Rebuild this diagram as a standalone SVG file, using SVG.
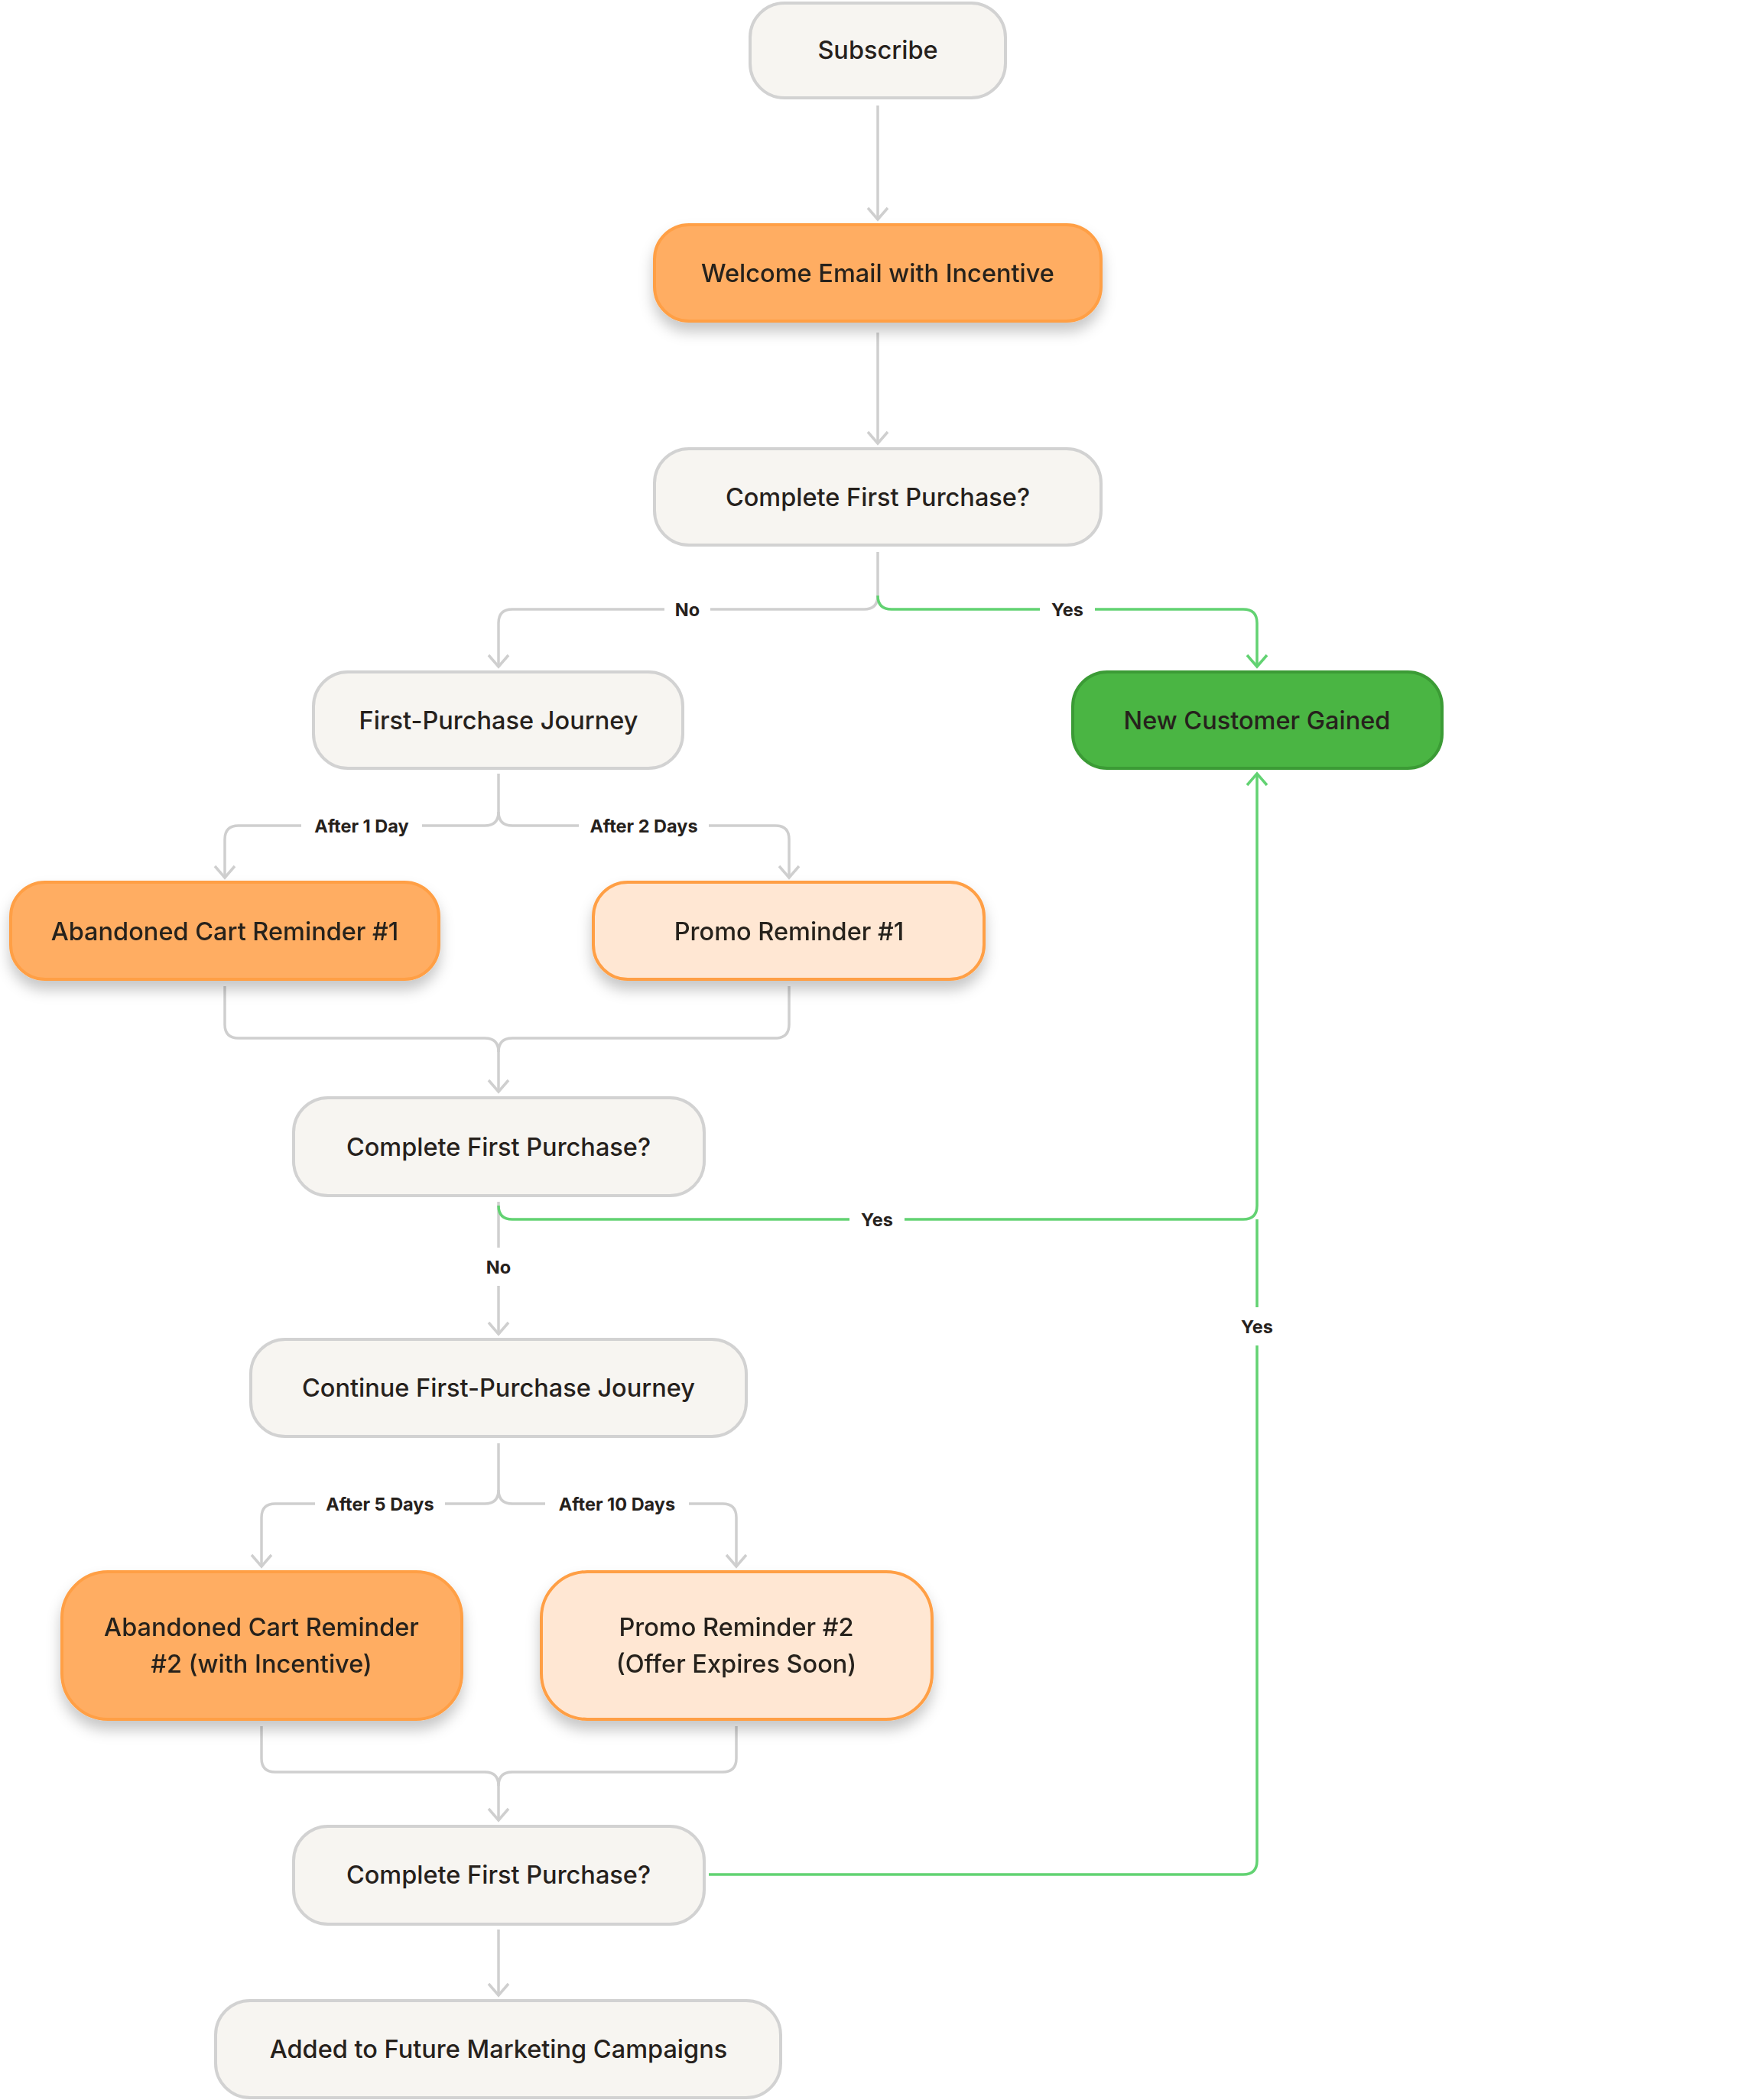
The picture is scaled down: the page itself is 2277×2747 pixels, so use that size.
<svg xmlns="http://www.w3.org/2000/svg" width="2277" height="2747" viewBox="0 0 2277 2747">
<style>
.node rect{stroke-width:4}
.grey rect{fill:#f7f5f1;stroke:#d2d2d2}
.orange rect{fill:#ffad62;stroke:#ff9f45}
.light rect{fill:#ffe7d3;stroke:#ff9f45}
.green rect{fill:#4ab543;stroke:#3b9b35}
.node text{font-family:Inter,"Noto Sans","Liberation Sans",sans-serif;font-size:32.5px;font-weight:500;fill:#26211c;text-anchor:middle;dominant-baseline:central}
.conn path{fill:none;stroke-width:3.5}
.g{stroke:#cfcfcf}
.y{stroke:#62d272}
.lbl rect{fill:#ffffff}
.lbl text{font-family:Inter,"Noto Sans","Liberation Sans",sans-serif;font-size:23.5px;font-weight:700;fill:#26211c;text-anchor:middle;dominant-baseline:central}
</style>
<defs>
<filter id="sh" x="-20%" y="-30%" width="140%" height="180%">
<feDropShadow dx="0" dy="12" stdDeviation="9" flood-color="#000" flood-opacity="0.22"/>
</filter>
<marker id="ag" viewBox="-20 -20 40 40" markerWidth="40" markerHeight="40" refX="0" refY="0" orient="auto" markerUnits="userSpaceOnUse">
<path d="M-15,-13 L0,0 L-15,13" fill="none" stroke="#cfcfcf" stroke-width="3.5"/>
</marker>
<marker id="ay" viewBox="-20 -20 40 40" markerWidth="40" markerHeight="40" refX="0" refY="0" orient="auto" markerUnits="userSpaceOnUse">
<path d="M-15,-13 L0,0 L-15,13" fill="none" stroke="#62d272" stroke-width="3.5"/>
</marker>
</defs>
<rect width="2277" height="2747" fill="#ffffff"/>
<g id="connectors" class="conn">
<path class="g" d="M1148 138 V287" marker-end="url(#ag)"/>
<path class="g" d="M1148 435 V580" marker-end="url(#ag)"/>
<path class="g" d="M1148 722 V779 Q1148 797 1130 797 H670 Q652 797 652 815 V872" marker-end="url(#ag)"/>
<path class="y" d="M1148 779 Q1148 797 1166 797 H1626 Q1644 797 1644 815 V872" marker-end="url(#ay)"/>
<path class="g" d="M652 1012 V1062 Q652 1080 634 1080 H312 Q294 1080 294 1098 V1148" marker-end="url(#ag)"/>
<path class="g" d="M652 1062 Q652 1080 670 1080 H1014 Q1032 1080 1032 1098 V1148" marker-end="url(#ag)"/>
<path class="g" d="M294 1290 V1340 Q294 1358 312 1358 H634 Q652 1358 652 1376 V1428" marker-end="url(#ag)"/>
<path class="g" d="M1032 1290 V1340 Q1032 1358 1014 1358 H670 Q652 1358 652 1376"/>
<path class="g" d="M652 1572 V1745" marker-end="url(#ag)"/>
<path class="y" d="M652 1577 Q652 1595 670 1595 H1626 Q1644 1595 1644 1577 V1012" marker-end="url(#ay)"/>
<path class="g" d="M652 1888 V1949 Q652 1967 634 1967 H360 Q342 1967 342 1985 V2049" marker-end="url(#ag)"/>
<path class="g" d="M652 1949 Q652 1967 670 1967 H945 Q963 1967 963 1985 V2049" marker-end="url(#ag)"/>
<path class="g" d="M342 2258 V2300 Q342 2318 360 2318 H634 Q652 2318 652 2336 V2381" marker-end="url(#ag)"/>
<path class="g" d="M963 2258 V2300 Q963 2318 945 2318 H670 Q652 2318 652 2336"/>
<path class="y" d="M927 2452 H1626 Q1644 2452 1644 2434 V1595"/>
<path class="g" d="M652 2524 V2610" marker-end="url(#ag)"/>
<g class="lbl">
<rect x="869" y="780" width="60" height="34"/><text x="899" y="797">No</text>
<rect x="1360" y="780" width="72" height="34"/><text x="1396" y="797">Yes</text>
<rect x="394" y="1063" width="158" height="34"/><text x="473" y="1080">After 1 Day</text>
<rect x="757" y="1063" width="170" height="34"/><text x="842" y="1080">After 2 Days</text>
<rect x="1111" y="1578" width="72" height="34"/><text x="1147" y="1595">Yes</text>
<rect x="628" y="1632" width="48" height="50"/><text x="652" y="1657">No</text>
<rect x="1614" y="1710" width="60" height="50"/><text x="1644" y="1735">Yes</text>
<rect x="412" y="1950" width="170" height="34"/><text x="497" y="1967">After 5 Days</text>
<rect x="713" y="1950" width="188" height="34"/><text x="807" y="1967">After 10 Days</text>
</g>
</g>
<g id="subscribe" class="node grey"><rect x="981" y="4" width="334" height="124" rx="45"/><text x="1148" y="65">Subscribe</text></g>
<g id="welcome" class="node orange" filter="url(#sh)"><rect x="856" y="294" width="584" height="126" rx="45"/><text x="1148" y="357">Welcome Email with Incentive</text></g>
<g id="check1" class="node grey"><rect x="856" y="587" width="584" height="126" rx="45"/><text x="1148" y="650">Complete First Purchase?</text></g>
<g id="journey" class="node grey"><rect x="410" y="879" width="483" height="126" rx="45"/><text x="652" y="942">First-Purchase Journey</text></g>
<g id="gained" class="node green"><rect x="1403" y="879" width="483" height="126" rx="45"/><text x="1644" y="942">New Customer Gained</text></g>
<g id="cart1" class="node orange" filter="url(#sh)"><rect x="14" y="1154" width="560" height="127" rx="45"/><text x="294" y="1218">Abandoned Cart Reminder #1</text></g>
<g id="promo1" class="node light" filter="url(#sh)"><rect x="776" y="1154" width="511" height="127" rx="45"/><text x="1032" y="1218">Promo Reminder #1</text></g>
<g id="check2" class="node grey"><rect x="384" y="1436" width="537" height="128" rx="45"/><text x="652" y="1500">Complete First Purchase?</text></g>
<g id="continue" class="node grey"><rect x="328" y="1752" width="648" height="127" rx="45"/><text x="652" y="1815">Continue First-Purchase Journey</text></g>
<g id="cart2" class="node orange" filter="url(#sh)"><rect x="81" y="2056" width="523" height="193" rx="60"/><text x="342" y="2128">Abandoned Cart Reminder</text><text x="342" y="2176">#2 (with Incentive)</text></g>
<g id="promo2" class="node light" filter="url(#sh)"><rect x="708" y="2056" width="511" height="193" rx="60"/><text x="963" y="2128">Promo Reminder #2</text><text x="963" y="2176">(Offer Expires Soon)</text></g>
<g id="check3" class="node grey"><rect x="384" y="2389" width="537" height="128" rx="45"/><text x="652" y="2452">Complete First Purchase?</text></g>
<g id="future" class="node grey"><rect x="282" y="2617" width="739" height="127" rx="45"/><text x="652" y="2680">Added to Future Marketing Campaigns</text></g>
</svg>
